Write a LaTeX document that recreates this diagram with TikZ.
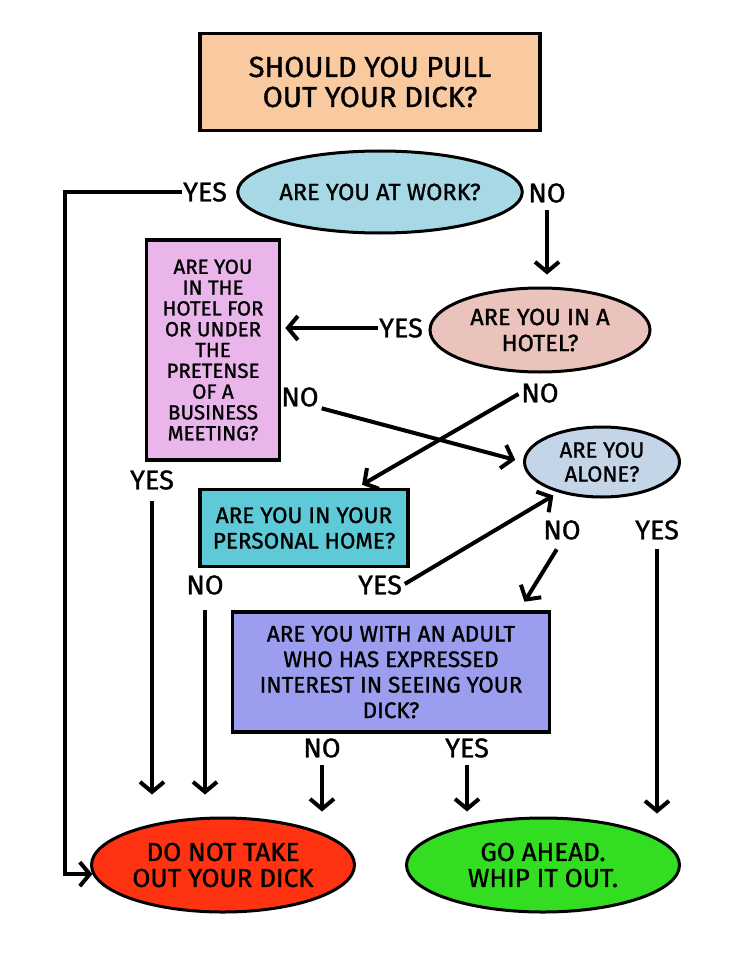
\documentclass[tikz,border=0pt]{standalone}
\usepackage{fontspec}
\setmainfont{Fira Sans}[FakeBold=1.2]
\usepackage{tikz}
\usetikzlibrary{positioning,arrows.meta,calc,shapes.geometric}
\definecolor{peach}{HTML}{F9C9A0}
\definecolor{skyblue}{HTML}{A6D8E6}
\definecolor{blush}{HTML}{EBC3BD}
\definecolor{orchid}{HTML}{E9B5EB}
\definecolor{mist}{HTML}{C5D5E8}
\definecolor{aqua}{HTML}{5ECAD8}
\definecolor{periwinkle}{HTML}{9B9DEE}
\definecolor{stopred}{HTML}{FF3311}
\definecolor{gogreen}{HTML}{33DD22}
\tikzset{
  qbox/.style={draw=black, line width=3.5pt, fill=#1, align=center, inner sep=2pt, font=\fontsize{22.5}{25.5}\selectfont},
  qoval/.style={ellipse, draw=black, line width=3pt, fill=#1, align=center, inner sep=0pt, font=\fontsize{23.5}{26}\selectfont},
  answer/.style={inner sep=1pt, font=\fontsize{27}{28}\selectfont},
  flowarrow/.style={-{Straight Barb[length=10pt,width=24pt]}, line width=4pt}
}
\begin{document}
\begin{tikzpicture}[x=1pt, y=-1pt]
  \useasboundingbox[fill=white] (0,0) rectangle (741,960);
  % questions
  \node[qbox=peach, minimum width=340pt, minimum height=97pt, font=\fontsize{29}{30}\selectfont] (title) at (370,82) {SHOULD YOU PULL\\OUT YOUR DICK?};
  \node[qoval=skyblue, minimum width=272pt, minimum height=82pt] (work) at (380,192) {ARE YOU AT WORK?};
  \node[qoval=blush, minimum width=220pt, minimum height=84pt] (hotel) at (540,330) {ARE YOU IN A\\HOTEL?};
  \node[qbox=orchid, minimum width=133pt, minimum height=220pt, font=\fontsize{20.5}{20.8}\selectfont] (meet) at (213,350) {ARE YOU\\IN THE\\HOTEL FOR\\OR UNDER\\THE\\PRETENSE\\OF A\\BUSINESS\\MEETING?};
  \node[qoval=mist, minimum width=155pt, minimum height=70pt, font=\fontsize{22}{24}\selectfont] (alone) at (602,462) {ARE YOU\\ALONE?};
  \node[qbox=aqua, minimum width=208pt, minimum height=77pt] (home) at (304,528) {ARE YOU IN YOUR\\PERSONAL HOME?};
  \node[qbox=periwinkle, minimum width=317pt, minimum height=120pt] (adult) at (391,672) {ARE YOU WITH AN ADULT\\WHO HAS EXPRESSED\\INTEREST IN SEEING YOUR\\DICK?};
  % outcomes
  \node[qoval=stopred, minimum width=263pt, minimum height=94pt, font=\fontsize{26}{26}\selectfont] (stop) at (223,865) {DO NOT TAKE\\OUT YOUR DICK};
  \node[qoval=gogreen, minimum width=273pt, minimum height=94pt, font=\fontsize{26}{26}\selectfont] (go) at (543,865) {GO AHEAD.\\WHIP IT OUT.};
  % answers
  \node[answer] (yes1) at (205,192) {YES};
  \node[answer] (no1) at (547,193) {NO};
  \node[answer] (yes2) at (401,328) {YES};
  \node[answer] (no2) at (540,393) {NO};
  \node[answer] (no3) at (300,397) {NO};
  \node[answer] (yes3) at (152,480) {YES};
  \node[answer] (no4) at (205,585) {NO};
  \node[answer] (yes4) at (380,585) {YES};
  \node[answer] (no5) at (562,530) {NO};
  \node[answer] (yes5) at (657,530) {YES};
  \node[answer] (no6) at (322,748) {NO};
  \node[answer] (yes6) at (467,748) {YES};
  \coordinate (bend) at (65,875);
  % connectors
  \draw[flowarrow] (yes1.west) -- (yes1.west -| bend) |- (stop.184);
  \draw[flowarrow, shorten <=6pt, shorten >=12pt] (no1.south) -- (no1.south |- hotel.north);
  \draw[flowarrow, shorten >=4pt] (yes2.west) -- (meet.east |- yes2.west);
  \draw[flowarrow, shorten <=2pt, shorten >=8pt] (no3.south east) -- (alone.west);
  \draw[flowarrow, shorten <=2pt, shorten >=6pt] (no2.west) -- ($(home.north)!0.5!(home.north east)$);
  \draw[flowarrow, shorten <=10pt, shorten >=22pt] (yes3.south) -- (yes3.south |- stop.north);
  \draw[flowarrow, shorten <=14pt, shorten >=22pt] (no4.south) -- (no4.south |- stop.north);
  \draw[flowarrow, shorten <=2pt, shorten >=6pt] (yes4.east) -- (alone.215);
  \draw[flowarrow, shorten <=10pt, shorten >=10pt] (no5.south) -- ($(adult.north east)!0.2!(adult.north)$);
  \draw[flowarrow, shorten <=8pt, shorten >=3pt] (yes5.south) -- (yes5.south |- go.north);
  \draw[flowarrow, shorten <=6pt, shorten >=5pt] (no6.south) -- (no6.south |- stop.north);
  \draw[flowarrow, shorten <=6pt, shorten >=5pt] (yes6.south) -- (yes6.south |- go.north);
\end{tikzpicture}
\end{document}
